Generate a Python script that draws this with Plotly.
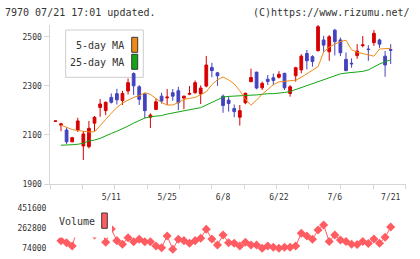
import plotly.graph_objects as go

# ---------------- data ----------------
dates = ["4/24", "4/25", "4/26", "4/27", "4/28", "5/1", "5/2", "5/8", "5/9", "5/10",
         "5/11", "5/12", "5/15", "5/16", "5/17", "5/18", "5/19", "5/22", "5/23", "5/24",
         "5/25", "5/26", "5/29", "5/30", "5/31", "6/1", "6/2", "6/5", "6/6", "6/7",
         "6/8", "6/9", "6/12", "6/13", "6/14", "6/15", "6/16", "6/19", "6/20", "6/21",
         "6/22", "6/23", "6/26", "6/27", "6/28", "6/29", "6/30", "7/3", "7/4", "7/5",
         "7/6", "7/7", "7/10", "7/11", "7/12", "7/13", "7/14", "7/18", "7/19", "7/20",
         "7/21"]

open_ = [2155, 2140, 2120, 2072, 2120, 2055, 2052, 2148, 2212, 2199,
         2253, 2268, 2240, 2279, 2350, 2296, 2267, 2172, 2204, 2258,
         2251, 2272, 2280, 2250, 2266, 2272, 2267, 2299, 2375, 2353,
         2258, 2242, 2208, 2172, 2231, 2317, 2356, 2292, 2327, 2333,
         2335, 2351, 2269, 2341, 2365, 2432, 2419, 2443, 2487, 2439,
         2527, 2487, 2408, 2392, 2423, 2464, 2450, 2476, 2487, 2421,
         2448]
high = [2157, 2150, 2131, 2092, 2170, 2115, 2157, 2177, 2246, 2236,
        2269, 2288, 2280, 2330, 2355, 2303, 2270, 2188, 2249, 2272,
        2287, 2287, 2296, 2260, 2299, 2322, 2302, 2422, 2394, 2357,
        2265, 2258, 2224, 2222, 2272, 2370, 2357, 2317, 2344, 2350,
        2360, 2353, 2303, 2378, 2429, 2446, 2425, 2548, 2504, 2507,
        2532, 2497, 2436, 2412, 2470, 2503, 2466, 2527, 2492, 2442,
        2470]
low = [2155, 2115, 2063, 2070, 2112, 1998, 2045, 2115, 2174, 2181,
       2228, 2224, 2222, 2265, 2263, 2222, 2168, 2128, 2201, 2228,
       2222, 2239, 2201, 2205, 2262, 2268, 2226, 2294, 2335, 2300,
       2190, 2195, 2172, 2138, 2225, 2315, 2286, 2283, 2303, 2303,
       2330, 2283, 2256, 2317, 2351, 2367, 2378, 2441, 2439, 2402,
       2424, 2421, 2360, 2374, 2410, 2457, 2402, 2463, 2455, 2337,
       2389]
close = [2157, 2145, 2072, 2089, 2157, 2104, 2127, 2172, 2226, 2233,
         2233, 2243, 2269, 2313, 2300, 2245, 2199, 2181, 2235, 2238,
         2254, 2258, 2231, 2258, 2269, 2313, 2291, 2385, 2362, 2341,
         2220, 2228, 2195, 2199, 2270, 2334, 2291, 2310, 2318, 2322,
         2347, 2292, 2296, 2374, 2421, 2402, 2399, 2541, 2466, 2500,
         2480, 2435, 2362, 2390, 2442, 2467, 2448, 2514, 2470, 2385,
         2445]

ma5 = [None, 2140, 2130, 2122, 2118, 2115, 2112, 2113, 2140, 2163,
       2188, 2212, 2230, 2243, 2253, 2260, 2272, 2265, 2248, 2232,
       2222, 2222, 2232, 2245, 2249, 2253, 2264, 2276, 2305, 2325,
       2336, 2324, 2308, 2280, 2245, 2221, 2242, 2266, 2285, 2305,
       2316, 2319, 2319, 2323, 2335, 2350, 2363, 2378, 2438, 2458,
       2470, 2480, 2486, 2447, 2437, 2432, 2424, 2421, 2450, 2453,
       2453]
ma25 = [None, 2058, 2058, 2060, 2062, 2066, 2076, 2079, 2086, 2097,
        2106, 2115, 2124, 2136, 2148, 2160, 2169, 2174, 2176, 2179,
        2185, 2190, 2194, 2198, 2204, 2207, 2211, 2222, 2235, 2246,
        2254, 2257, 2259, 2261, 2262, 2262, 2263, 2266, 2268, 2268,
        2269, 2273, 2277, 2285, 2292, 2300, 2308, 2316, 2324, 2334,
        2343, 2349, 2352, 2354, 2356, 2359, 2365, 2378, 2389, 2398,
        2406]
volume = [None, 146000, 127000, 95700, 265600, 360000, 294000, 199500, 303000, 130600,
          256000, 146000, 111800, 174000, 136300, 159000, 136300, 136300, 95700, 79700,
          190100, 64600, 159000, 146000, 121200, 146000, 168400, 253400, 161800, 105200,
          199500, 127000, 121200, 95700, 130600, 105200, 105200, 74000, 95700, 83400,
          74000, 83400, 83400, 95700, 215600, 190100, 159000, 246800, 294000, 138200,
          199500, 152400, 138200, 112700, 109900, 138200, 119300, 161800, 121200, 177800,
          275100]

price_ticks = [1900, 2100, 2300, 2500]
volume_ticks = [74000, 262800, 451600]
label_dates = ["5/11", "5/25", "6/8", "6/22", "7/6", "7/21"]

title_left = "7970 07/21 17:01 updated."
title_right = "(C)https://www.rizumu.net/"

# ---------------- layout helpers ----------------
W, H = 420, 259
def px(x):
    return x / W
def py(y):
    return 1 - y / H

RED = "#d80000"
BLUE = "#4343bf"
ORANGE = "#ef8a17"
GREEN = "#12a612"
VOLC = "#ff5c62"
AXIS = "#d6d6d6"
TXT = "#333333"
MONO = "DejaVu Sans Mono"

idx = list(range(len(dates)))
X0, X1 = -0.895, 62.65
tick_pos = [dates.index(d) for d in label_dates]

fig = go.Figure()
fig.add_trace(go.Candlestick(
    x=idx, open=open_, high=high, low=low, close=close,
    increasing=dict(line=dict(color=RED, width=1), fillcolor=RED),
    decreasing=dict(line=dict(color=BLUE, width=1), fillcolor=BLUE),
    whiskerwidth=0, showlegend=False, hoverinfo="skip",
    xaxis="x", yaxis="y"))
fig.add_trace(go.Scatter(x=idx, y=ma25, mode="lines", line=dict(color=GREEN, width=1),
                         showlegend=False, xaxis="x", yaxis="y", hoverinfo="skip"))
fig.add_trace(go.Scatter(x=idx, y=ma5, mode="lines", line=dict(color=ORANGE, width=1),
                         showlegend=False, xaxis="x", yaxis="y", hoverinfo="skip"))
fig.add_trace(go.Scatter(x=idx, y=volume, mode="lines+markers",
                         line=dict(color=VOLC, width=1),
                         marker=dict(symbol="diamond", size=7, color=VOLC, line=dict(width=0)),
                         showlegend=False, xaxis="x2", yaxis="y2", hoverinfo="skip"))

# volume axis range from its label anchors (451600 at y=208.3px, 74000 at 248.3px)
vpp = (volume_ticks[-1] - volume_ticks[0]) / (248.3 - 208.3)
v_top_px, v_bot_px = 203, 254
v_range = [volume_ticks[0] - (v_bot_px - 248.3) * vpp, volume_ticks[-1] + (208.3 - v_top_px) * vpp]

xdom = [px(50.4), px(405.5)]
fig.update_layout(
    template="none",
    width=W, height=H, autosize=False,
    margin=dict(l=0, r=0, t=0, b=0),
    paper_bgcolor="white", plot_bgcolor="white",
    showlegend=False,
    xaxis=dict(domain=xdom, anchor="y", range=[X0, X1],
               showline=True, linecolor=AXIS, linewidth=1,
               ticks="outside", ticklen=4, tickcolor=AXIS, tickwidth=1,
               tickmode="linear", tick0=X0, dtick=(X1 - X0) / 11,
               showticklabels=False, showgrid=False, zeroline=False,
               rangeslider=dict(visible=False), fixedrange=True),
    yaxis=dict(domain=[py(184), py(25)], anchor="x", range=[1900, 2548],
               showline=True, linecolor=AXIS, linewidth=1,
               ticks="outside", ticklen=5, tickcolor=AXIS, tickwidth=1,
               tickmode="array", tickvals=price_ticks,
               ticktext=[str(v) for v in price_ticks],
               tickfont=dict(family=MONO, size=8, color=TXT),
               ticklabelstandoff=1,
               showgrid=False, zeroline=False, fixedrange=True),
    xaxis2=dict(domain=xdom, anchor="y2", matches="x", side="top",
                showline=False, ticks="", tickmode="array", tickvals=tick_pos,
                ticktext=label_dates, tickfont=dict(family=MONO, size=8, color=TXT),
                showgrid=False, zeroline=False, fixedrange=True),
    yaxis2=dict(domain=[py(v_bot_px), py(v_top_px)], anchor="x2", range=v_range,
                showline=False, ticks="", tickmode="array", tickvals=volume_ticks,
                ticktext=[str(v) for v in volume_ticks],
                tickfont=dict(family=MONO, size=8, color=TXT),
                ticklabelstandoff=3,
                showgrid=False, zeroline=False, fixedrange=True),
)

shapes = [
    # MA legend box (under the candles)
    dict(type="rect", xref="paper", yref="paper", x0=px(65.7), x1=px(143.3),
         y0=py(77.3), y1=py(30), fillcolor="white", line=dict(color="#cccccc", width=1),
         layer="below"),
    dict(type="rect", xref="paper", yref="paper", x0=px(131.7), x1=px(137.7),
         y0=py(52.3), y1=py(37.3), fillcolor=ORANGE, line=dict(color="#3a3a3a", width=1)),
    dict(type="rect", xref="paper", yref="paper", x0=px(131.7), x1=px(137.7),
         y0=py(69.3), y1=py(54.3), fillcolor=GREEN, line=dict(color="#3a3a3a", width=1)),
    # Volume legend (covers the series)
    dict(type="rect", xref="paper", yref="paper", x0=px(55), x1=px(112),
         y0=py(237.5), y1=py(206), fillcolor="white", line=dict(width=0), layer="above"),
    dict(type="rect", xref="paper", yref="paper", x0=px(101.7), x1=px(107.3),
         y0=py(228.3), y1=py(213), fillcolor=VOLC, line=dict(color="#3a3a3a", width=1),
         layer="above"),
]
fig.update_layout(shapes=shapes)

ann = [
    dict(text=title_left, x=px(3), y=py(12.5), xanchor="left", yanchor="middle",
         font=dict(family=MONO, size=10, color=TXT)),
    dict(text=title_right, x=px(412), y=py(12.5), xanchor="right", yanchor="middle",
         font=dict(family=MONO, size=10, color=TXT)),
    dict(text="5-day MA", x=px(125.5), y=py(45.5), xanchor="right", yanchor="middle",
         font=dict(family=MONO, size=10, color=TXT)),
    dict(text="25-day MA", x=px(125.5), y=py(63), xanchor="right", yanchor="middle",
         font=dict(family=MONO, size=10, color=TXT)),
    dict(text="Volume", x=px(56.5), y=py(221.5), xanchor="left", yanchor="middle",
         font=dict(family=MONO, size=10, color=TXT)),
]
for a in ann:
    a.update(xref="paper", yref="paper", showarrow=False)
fig.update_layout(annotations=ann)

fig.write_html("out.html")
